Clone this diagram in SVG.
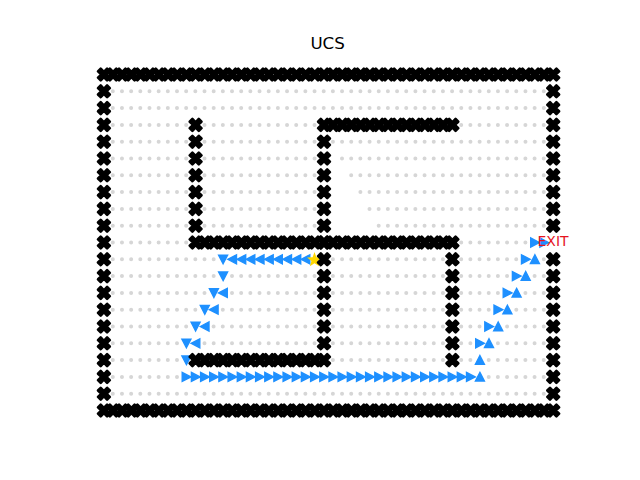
<svg xmlns="http://www.w3.org/2000/svg" width="640" height="480" viewBox="0 0 640 480">
<style>
text{font-family:"DejaVu Sans",sans-serif}
.d{stroke:#d6d6d6;stroke-width:4;stroke-linecap:round;stroke-dasharray:0 9.17;fill:none}
.t{fill:#1e90ff;stroke:#1e90ff;stroke-width:1.39}
</style>
<defs>
<polygon id="x" fill="#000" stroke="#000" stroke-width="2.6" stroke-linejoin="round" points="-3.2,-5.9 0,-2.5 3.2,-5.9 5.9,-3.2 2.5,0 5.9,3.2 3.2,5.9 0,2.5 -3.2,5.9 -5.9,3.2 -2.5,0 -5.9,-3.2"/>
<g id="h5"><use href="#x"/><use href="#x" x="9.17"/><use href="#x" x="18.34"/><use href="#x" x="27.51"/><use href="#x" x="36.68"/></g>
<g id="h15"><use href="#h5"/><use href="#h5" x="45.85"/><use href="#h5" x="91.7"/></g>
<g id="h50"><use href="#h15"/><use href="#h15" x="137.55"/><use href="#h15" x="275.1"/><use href="#h5" x="412.65"/></g>
<g id="v6"><use href="#x"/><use href="#x" y="16.8"/><use href="#x" y="33.6"/><use href="#x" y="50.4"/><use href="#x" y="67.2"/><use href="#x" y="84"/></g>
<g id="v9"><use href="#v6"/><use href="#x" y="100.8"/><use href="#x" y="117.6"/><use href="#x" y="134.4"/></g>
<polygon id="tu" class="t" points="0,-4.5 4.5,4.2 -4.5,4.2"/>
<polygon id="td" class="t" points="0,4.5 4.5,-4.2 -4.5,-4.2"/>
<polygon id="tl" class="t" points="-4.5,0 4.2,-4.5 4.2,4.5"/>
<polygon id="tr" class="t" points="4.5,0 -4.2,-4.5 -4.2,4.5"/>
</defs>
<text x="327.6" y="48.5" font-size="16.67" text-anchor="middle">UCS</text>
<g id="dots">
<path class="d" d="M112.8 91.3H544.6M112.8 108.1H544.6M112.8 124.9H187M204.5 124.9H315M461.2 124.9H544.6"/>
<path class="d" d="M112.8 141.7H187M204.5 141.7H315M332.9 141.7H544.6M112.8 158.5H187M204.5 158.5H315M342 158.5H544.6M112.8 175.3H187M204.5 175.3H315M351.2 175.3H544.6"/>
<path class="d" d="M112.8 192.1H187M204.5 192.1H315M360.4 192.1H544.6M112.8 208.9H187M204.5 208.9H315M369.5 208.9H544.6M112.8 225.7H187M204.5 225.7H315M378.7 225.7H544.6"/>
<path class="d" d="M112.8 242.5H187M461.2 242.5H526M112.8 259.3H214M332.9 259.3H443M461.2 259.3H526M543.8 259.3H544.6"/>
<path class="d" d="M112.8 276.1H214M232 276.1H315M332.9 276.1H443M461.2 276.1H517M534.6 276.1H544.6M112.8 292.9H205M232 292.9H315M332.9 292.9H443M461.2 292.9H508M525.4 292.9H544.6"/>
<path class="d" d="M112.8 309.7H196M222.8 309.7H315M332.9 309.7H443M461.2 309.7H498.5M516.3 309.7H544.6M112.8 326.5H187M213.6 326.5H315M332.9 326.5H443M461.2 326.5H489.5M507.1 326.5H544.6"/>
<path class="d" d="M112.8 343.3H178M204.5 343.3H315M332.9 343.3H443M461.2 343.3H480M497.9 343.3H544.6M112.8 360.1H178M332.9 360.1H443M461.2 360.1H471M488.7 360.1H544.6"/>
<path class="d" d="M112.8 376.9H178M488.7 376.9H544.6M112.8 393.7H544.6"/>
</g>
<g id="path" transform="translate(0.3 0)">
<use href="#td" x="222.8" y="259.3"/><use href="#td" x="222.8" y="276.1"/><use href="#td" x="213.6" y="292.9"/><use href="#td" x="204.5" y="309.7"/><use href="#td" x="195.3" y="326.5"/><use href="#td" x="186.1" y="343.3"/><use href="#td" x="186.1" y="360.1"/>
<use href="#tl" x="232" y="259.3"/><use href="#tl" x="241.2" y="259.3"/><use href="#tl" x="250.3" y="259.3"/><use href="#tl" x="259.5" y="259.3"/><use href="#tl" x="268.7" y="259.3"/><use href="#tl" x="277.8" y="259.3"/><use href="#tl" x="287" y="259.3"/><use href="#tl" x="296.2" y="259.3"/><use href="#tl" x="305.3" y="259.3"/>
<use href="#tl" x="222.8" y="292.9"/><use href="#tl" x="213.6" y="309.7"/><use href="#tl" x="204.5" y="326.5"/><use href="#tl" x="195.3" y="343.3"/>
<use href="#tr" x="186.1" y="376.9"/><use href="#tr" x="195.3" y="376.9"/><use href="#tr" x="204.5" y="376.9"/><use href="#tr" x="213.6" y="376.9"/><use href="#tr" x="222.8" y="376.9"/><use href="#tr" x="232" y="376.9"/><use href="#tr" x="241.2" y="376.9"/><use href="#tr" x="250.3" y="376.9"/><use href="#tr" x="259.5" y="376.9"/><use href="#tr" x="268.7" y="376.9"/><use href="#tr" x="277.8" y="376.9"/><use href="#tr" x="287" y="376.9"/><use href="#tr" x="296.2" y="376.9"/><use href="#tr" x="305.3" y="376.9"/><use href="#tr" x="314.5" y="376.9"/><use href="#tr" x="323.7" y="376.9"/><use href="#tr" x="332.9" y="376.9"/><use href="#tr" x="342" y="376.9"/><use href="#tr" x="351.2" y="376.9"/><use href="#tr" x="360.4" y="376.9"/><use href="#tr" x="369.5" y="376.9"/><use href="#tr" x="378.7" y="376.9"/><use href="#tr" x="387.9" y="376.9"/><use href="#tr" x="397" y="376.9"/><use href="#tr" x="406.2" y="376.9"/><use href="#tr" x="415.4" y="376.9"/><use href="#tr" x="424.6" y="376.9"/><use href="#tr" x="433.7" y="376.9"/><use href="#tr" x="442.9" y="376.9"/><use href="#tr" x="452.1" y="376.9"/><use href="#tr" x="461.2" y="376.9"/><use href="#tr" x="470.4" y="376.9"/>
<use href="#tu" x="479.6" y="376.9"/><use href="#tu" x="479.6" y="360.1"/>
<use href="#tu" x="488.7" y="343.3"/><use href="#tu" x="497.9" y="326.5"/><use href="#tu" x="507.1" y="309.7"/><use href="#tu" x="516.3" y="292.9"/><use href="#tu" x="525.4" y="276.1"/><use href="#tu" x="534.6" y="259.3"/>
<use href="#tr" x="479.6" y="343.3"/><use href="#tr" x="488.7" y="326.5"/><use href="#tr" x="497.9" y="309.7"/><use href="#tr" x="507.1" y="292.9"/><use href="#tr" x="516.3" y="276.1"/><use href="#tr" x="525.4" y="259.3"/><use href="#tr" x="534.6" y="242.5"/><use href="#tr" x="543.8" y="242.5"/>
</g>
<polygon id="start" fill="#ffd700" points="314.5,252 316.4,257.3 322,257.5 317.6,261 319.1,266.3 314.5,263.2 309.9,266.3 311.4,261 307,257.5 312.6,257.3"/>
<g id="walls" transform="translate(0.3 0)">
<use href="#h50" x="103.6" y="74.5"/>
<use href="#h50" x="103.6" y="410.5"/>
<use href="#v9" x="103.6" y="91.3"/><use href="#v9" x="103.6" y="242.5"/><use href="#x" x="103.6" y="393.7"/>
<use href="#v9" x="552.9" y="91.3"/><use href="#v6" x="552.9" y="259.3"/><use href="#x" x="552.9" y="360.1"/><use href="#x" x="552.9" y="376.9"/><use href="#x" x="552.9" y="393.7"/>
<use href="#v6" x="195.3" y="124.9"/><use href="#x" x="195.3" y="225.7"/>
<use href="#v6" x="323.7" y="141.7"/>
<use href="#h15" x="323.7" y="124.9"/>
<use href="#h15" x="195.3" y="242.5"/><use href="#h15" x="323.7" y="242.5"/>
<use href="#v6" x="323.7" y="259.3"/>
<use href="#h15" x="195.3" y="360.1"/>
<use href="#v6" x="452.1" y="259.3"/><use href="#x" x="452.1" y="360.1"/>
</g>
<text id="exit" x="537.6" y="246" font-size="13.9" fill="#e6141e">EXIT</text>
</svg>
